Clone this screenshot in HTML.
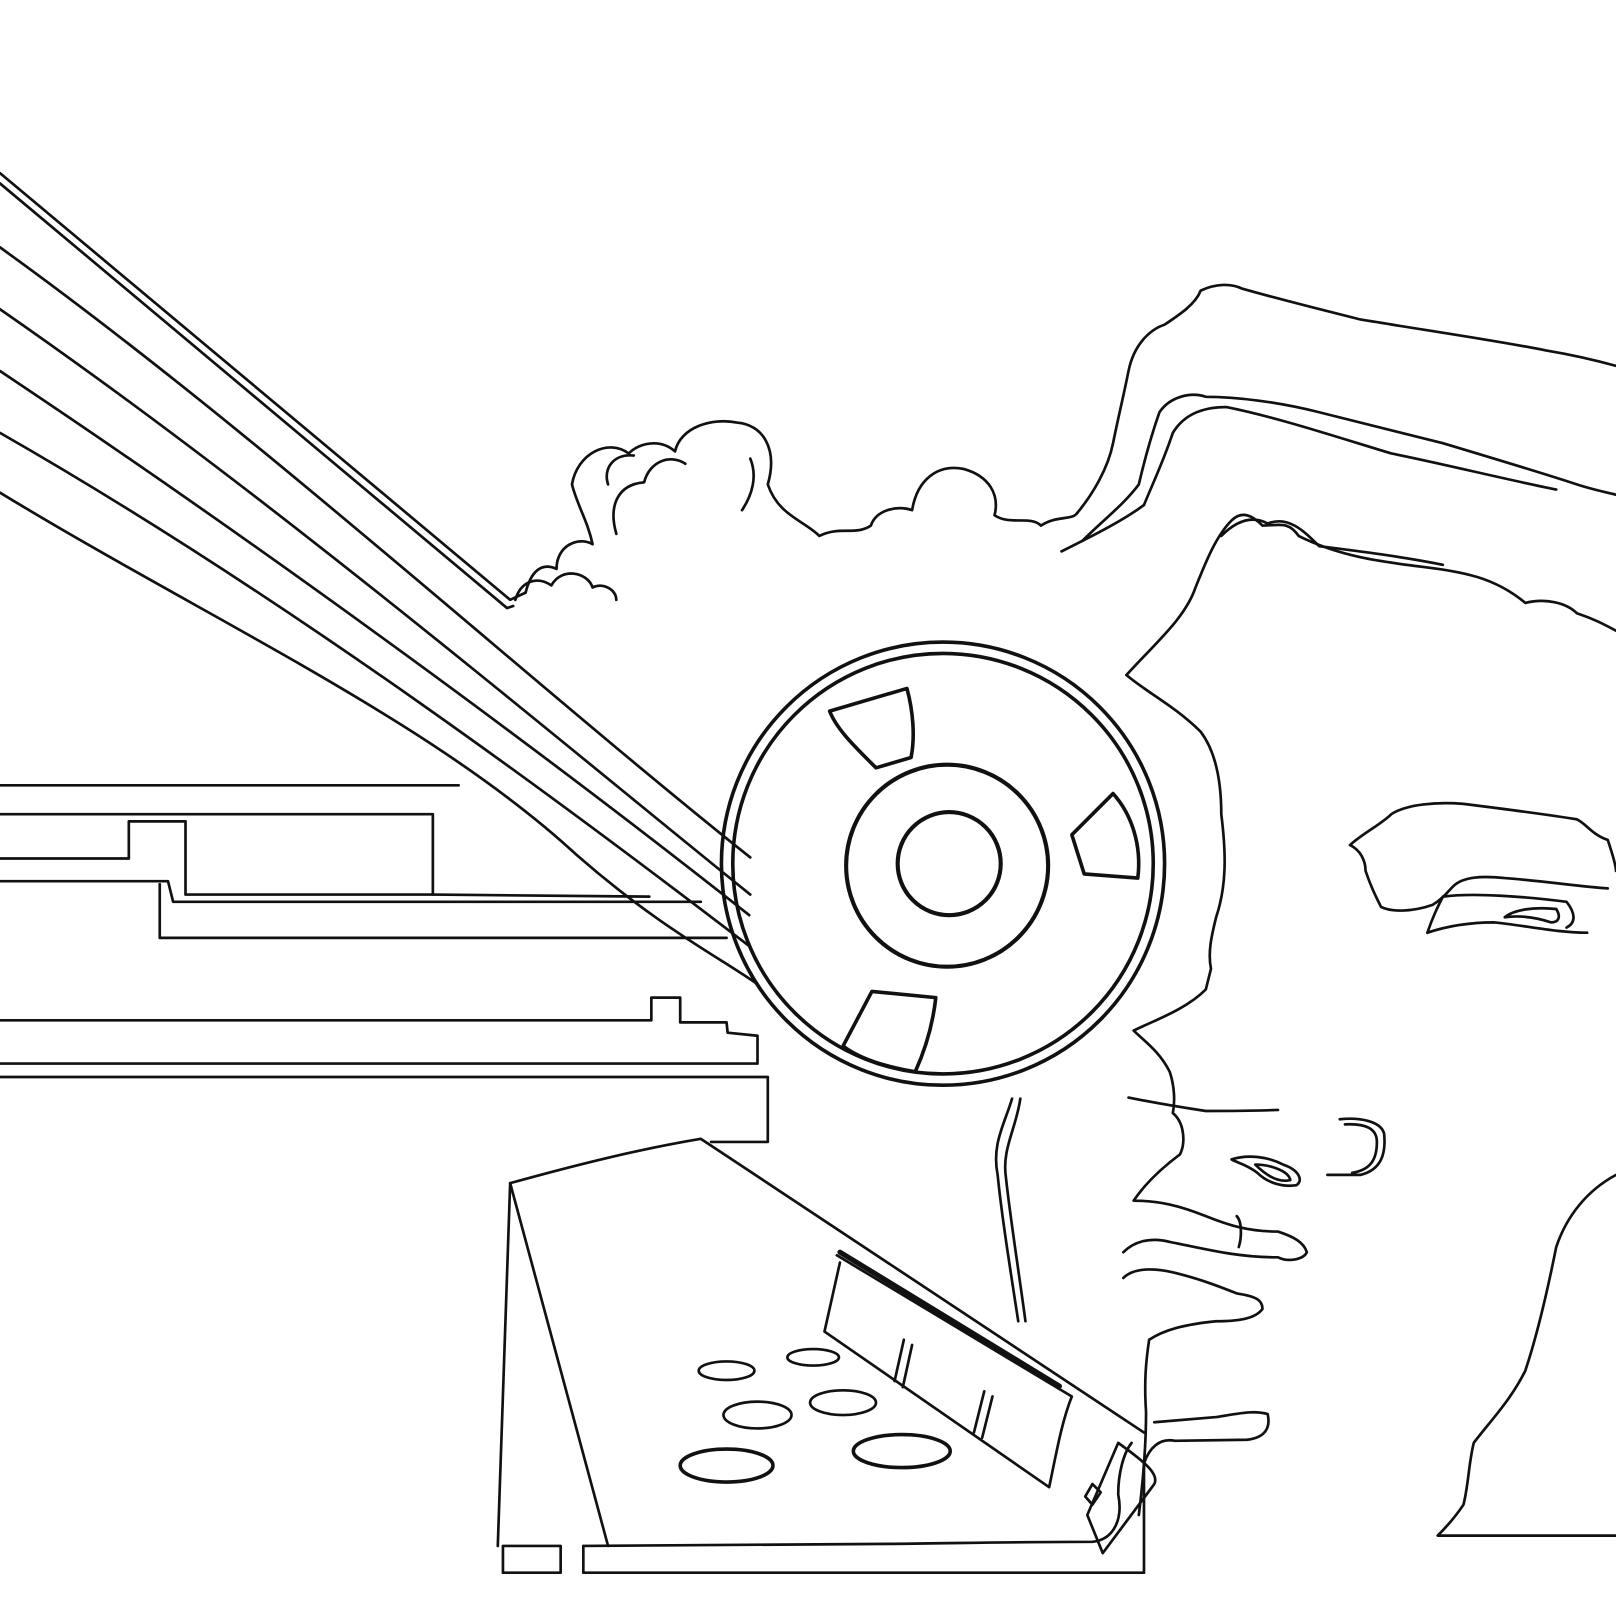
<!DOCTYPE html>
<html><head><meta charset="utf-8"><style>html,body{margin:0;padding:0;background:#fff}svg{display:block}</style></head><body>
<svg width="1616" height="1616" viewBox="0 0 1568 1568" xmlns="http://www.w3.org/2000/svg" fill="none" stroke="#111" stroke-width="2.6" stroke-linejoin="round" stroke-linecap="round">
<!-- diagonal beams -->
<path d="M0 168 L495 582 L510 575"/>
<path d="M0 178 L492 590 L498 588"/>
<path d="M0 240 C250 420 500 650 728 832"/>
<path d="M0 300 C260 480 520 700 728 868"/>
<path d="M0 360 C270 540 540 740 727 888"/>
<path d="M0 420 C280 580 560 790 727 918"/>
<path d="M0 478 C200 600 420 700 560 830 C640 900 700 930 735 955"/>
<!-- left machine blocks -->
<path d="M0 762 L445 762"/>
<path d="M0 790 L420 790 L420 868 L180 868 L180 797 L125 797 L125 833 L0 833"/>
<path d="M420 868 L630 870"/>
<path d="M0 855 L163 855 L168 875 L680 875"/>
<path d="M155 858 L155 910 L705 910"/>
<path d="M0 990 L632 990 L632 968 L660 968 L660 992 L705 992 L706 1002 L735 1005 L735 1032 L0 1032"/>
<path d="M0 1045 L745 1045 L745 1108 L690 1108"/>
<!-- reel -->
<circle cx="915" cy="838" r="215" stroke-width="3.5"/>
<circle cx="915" cy="838" r="204" stroke-width="3.5"/>
<circle cx="919" cy="840" r="98" stroke-width="4"/>
<circle cx="921" cy="838" r="50" stroke-width="4"/>
<path d="M805 690 L880 668 C886 690 888 715 884 735 L850 745 C830 725 812 708 805 690Z" stroke-width="3.5"/>
<path d="M1040 810 L1080 770 C1098 790 1108 820 1104 852 L1052 848Z" stroke-width="3.5"/>
<path d="M818 1015 L846 962 L908 968 C905 995 898 1018 888 1040 C860 1035 835 1028 818 1015Z" stroke-width="3.5"/>
<!-- stem -->
<path d="M982 1066 C975 1090 962 1110 968 1140 C972 1180 980 1230 988 1282"/>
<path d="M990 1066 C986 1095 972 1115 976 1142 C980 1180 988 1230 995 1282"/>
<!-- clouds -->
<path d="M500 582 C505 565 520 558 535 568 C545 550 570 555 575 570 C585 565 598 572 598 582"/>
<path d="M510 575 C515 555 525 545 540 552 C540 530 560 520 575 528 C570 505 560 490 555 470 C560 440 590 425 610 440 C620 430 640 425 655 438 C660 415 690 405 715 410 C740 412 755 435 745 470 C755 500 780 505 795 520 C815 510 830 520 845 510 C850 495 870 490 885 495 C890 465 910 450 935 455 C960 462 970 480 965 500 C980 510 1000 500 1010 510 C1025 500 1040 505 1045 498"/>
<path d="M598 518 C590 490 600 470 625 468 C630 448 650 440 665 450"/>
<path d="M720 495 C730 480 735 462 728 445"/>
<path d="M590 470 C585 455 595 440 615 442"/>
<!-- hair -->
<path d="M1045 498 C1060 480 1075 455 1080 430 C1085 405 1090 385 1095 360 C1100 335 1115 320 1130 315 C1145 305 1160 295 1165 282 C1180 275 1195 275 1205 280 C1240 290 1280 300 1320 310 C1380 320 1450 330 1500 340 C1530 345 1550 350 1568 355"/>
<path d="M1050 525 C1070 505 1090 490 1105 470 C1112 440 1118 420 1125 400 C1135 385 1155 380 1170 385 C1200 385 1240 390 1280 400 C1320 410 1360 420 1400 430 C1450 445 1500 460 1530 470 C1545 475 1560 478 1568 480"/>
<path d="M1030 535 C1060 520 1090 505 1110 490 C1118 470 1128 450 1138 420 C1150 400 1170 395 1190 395 C1240 405 1300 425 1350 440 C1400 450 1460 465 1510 475"/>
<path d="M1093 655 C1120 625 1150 600 1160 570 C1170 545 1180 520 1195 505 C1205 495 1215 500 1225 510 C1240 510 1250 505 1260 520 C1300 540 1340 545 1380 550 C1420 555 1450 560 1480 585 C1500 580 1520 585 1530 595 C1545 600 1555 605 1568 612"/>
<path d="M1185 520 C1200 505 1215 500 1230 508 C1250 500 1265 515 1280 530 C1320 535 1360 540 1400 548"/>
<!-- face -->
<path d="M1093 655 C1110 670 1140 685 1165 710 C1180 730 1185 760 1185 790 C1190 830 1190 860 1180 890 C1175 910 1172 925 1175 940 L1170 960 C1150 980 1120 990 1100 1000 C1110 1010 1125 1020 1135 1040 C1140 1055 1140 1070 1138 1080 C1150 1090 1150 1110 1145 1120 C1125 1135 1110 1150 1100 1165 C1125 1165 1145 1170 1170 1180 C1190 1188 1210 1195 1240 1195 C1255 1200 1265 1205 1268 1215 C1265 1222 1250 1225 1240 1220 C1200 1220 1170 1212 1135 1205 C1115 1200 1100 1205 1090 1215"/>
<path d="M1090 1240 C1100 1230 1120 1230 1140 1235 C1160 1240 1175 1245 1200 1255 C1220 1258 1225 1262 1225 1270 C1218 1280 1200 1282 1180 1282 C1150 1285 1130 1290 1115 1300 C1112 1320 1110 1340 1112 1370 C1112 1400 1110 1430 1105 1470"/>
<path d="M1095 1065 C1120 1070 1150 1075 1170 1078 C1190 1078 1210 1078 1240 1077"/>
<path d="M1300 1086 C1320 1084 1340 1088 1343 1100 C1345 1120 1340 1135 1320 1140 L1288 1140"/>
<path d="M1305 1091 C1325 1090 1336 1095 1336 1108 C1336 1125 1330 1135 1312 1138"/>
<path d="M1195 1125 C1210 1120 1230 1122 1245 1130 C1260 1135 1265 1145 1258 1150 C1245 1152 1230 1148 1220 1138 C1210 1130 1200 1128 1195 1125Z"/>
<path d="M1218 1130 C1230 1130 1250 1135 1252 1145 C1240 1148 1228 1140 1218 1130Z"/>
<path d="M1200 1180 C1205 1185 1205 1200 1202 1210"/>
<path d="M1568 1140 C1540 1155 1520 1180 1510 1210 C1500 1260 1490 1300 1480 1330 C1465 1360 1445 1380 1430 1400 C1425 1420 1425 1440 1420 1460 C1410 1475 1400 1485 1395 1490 L1568 1490"/>
<!-- eyebrow & eye -->
<path d="M1310 820 C1320 810 1340 800 1350 790 C1365 780 1395 778 1420 780 C1460 785 1500 790 1530 795 C1540 800 1545 810 1560 815 C1565 830 1568 840 1568 845"/>
<path d="M1310 820 C1320 825 1325 835 1325 845 C1330 860 1335 870 1340 880 C1350 885 1370 885 1390 878 C1400 872 1405 865 1410 860 C1420 850 1440 850 1460 852 C1500 855 1530 860 1560 862"/>
<path d="M1385 905 C1390 890 1395 880 1400 870 C1430 866 1480 870 1520 875 C1528 885 1530 895 1520 900"/>
<path d="M1385 905 C1400 900 1420 895 1450 895 C1480 898 1510 905 1540 905"/>
<path d="M1460 890 C1470 882 1490 880 1510 882 C1515 890 1512 895 1505 895 C1490 890 1475 888 1460 890Z"/>
<!-- console -->
<path d="M483 1500 L495 1148 L590 1500"/>
<path d="M495 1148 C560 1130 620 1115 680 1105 L1110 1390"/>
<rect x="488" y="1500" width="56" height="26"/>
<path d="M566 1500 L866 1498 C950 1497 1000 1496 1060 1496 C1080 1494 1090 1475 1085 1450 C1085 1430 1090 1410 1098 1400"/>
<path d="M566 1500 L566 1526 L1110 1526 L1110 1420 C1115 1405 1125 1395 1140 1398 L1210 1397 C1228 1395 1233 1385 1230 1372 C1215 1368 1200 1372 1180 1375 L1120 1380"/>
<path d="M815 1215 L1028 1345" stroke-width="5"/>
<path d="M815 1225 L800 1292 L1018 1443 C1025 1410 1030 1380 1040 1355 L812 1218"/>
<path d="M877 1300 L868 1340 M885 1305 L876 1346 M955 1350 L945 1390 M963 1355 L953 1395"/>
<path d="M1085 1400 L1055 1470 L1070 1507 L1120 1440 C1125 1430 1110 1418 1085 1400Z"/>
<path d="M1060 1440 L1068 1448 L1060 1460 L1053 1452Z"/>
<ellipse cx="705" cy="1330" rx="27" ry="9"/>
<ellipse cx="789" cy="1317" rx="25" ry="8"/>
<ellipse cx="735" cy="1373" rx="33" ry="13"/>
<ellipse cx="818" cy="1361" rx="32" ry="12"/>
<ellipse cx="705" cy="1422" rx="45" ry="16" stroke-width="3.5"/>
<ellipse cx="875" cy="1408" rx="47" ry="16" stroke-width="3.5"/>
</svg>
</body></html>
